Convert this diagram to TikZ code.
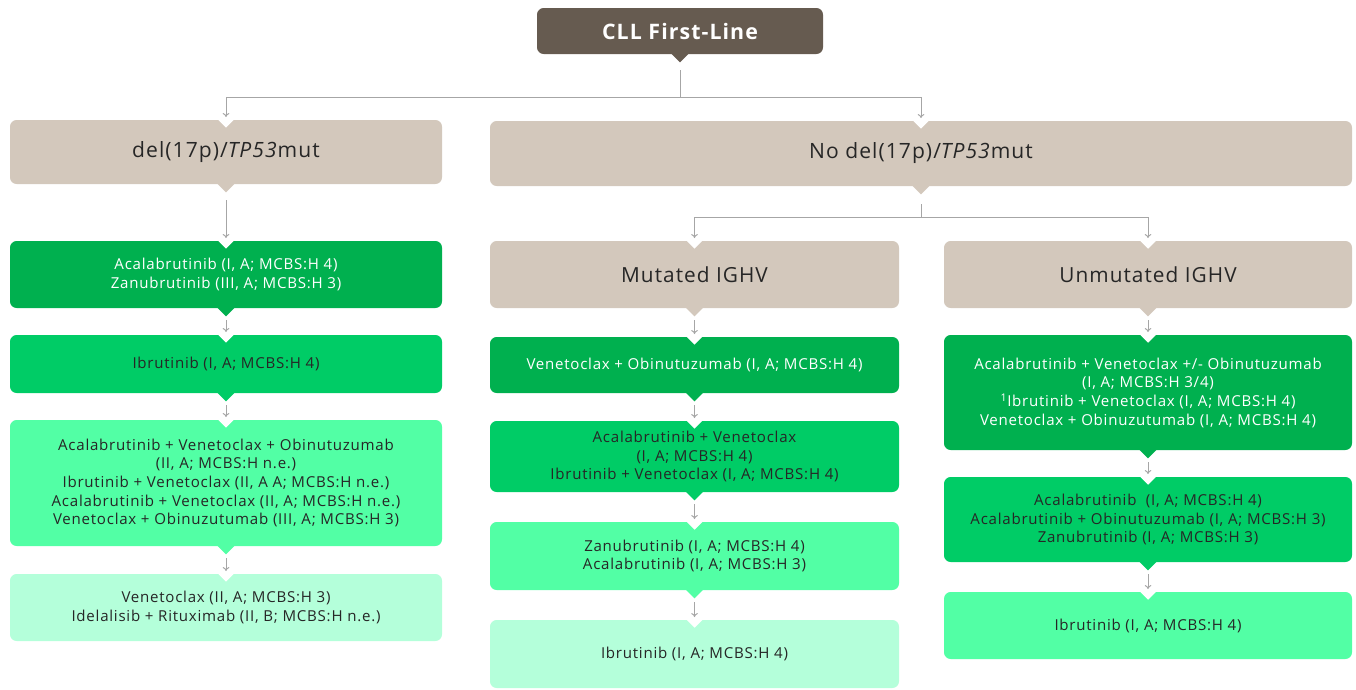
\documentclass[tikz,border=0pt]{standalone}
\usepackage{fontspec}
\setmainfont{Open Sans}[LetterSpace=5]
\usetikzlibrary{arrows.meta}

\definecolor{cllbrown}{HTML}{665B50}
\definecolor{beige}{HTML}{D3C8BC}
\definecolor{grdark}{HTML}{00B04F}
\definecolor{grmid}{HTML}{00CC66}
\definecolor{grlight}{HTML}{52FFA5}
\definecolor{grpale}{HTML}{B4FFDA}
\definecolor{txtdark}{HTML}{262626}
\definecolor{arrowgray}{HTML}{A6A6A6}

% pointer under a box, white notch on top of a box
\newcommand{\BoxTail}[2]{\fill[#2] (#1.south) ++(-9,-1) -- ++(18,0) -- ++(-9,9) -- cycle;}
\newcommand{\BoxNotch}[1]{\fill[white] (#1.north) ++(-9,-1) -- ++(18,0) -- ++(-9,9) -- cycle;}

\begin{document}
\begin{tikzpicture}[x=0.75pt, y=-0.75pt]
\tikzset{box/.style = {rounded corners=5pt, align=center, inner sep=0pt,
                       font=\fontsize{11.3}{14}\selectfont},
         head/.style = {box, fill=beige, text=txtdark,
                        font=\fontsize{15.8}{18}\selectfont},
         sub/.style = {box, fill=beige, text=txtdark,
                       font=\fontsize{15.6}{16}\selectfont},
         tdark/.style = {box, fill=grdark, text=white},
         tmid/.style = {box, fill=grmid, text=txtdark},
         tlight/.style = {box, fill=grlight, text=txtdark},
         tpale/.style = {box, fill=grpale, text=txtdark},
         colL/.style = {minimum width=324pt},
         colM/.style = {minimum width=306.75pt},
         colR/.style = {minimum width=306pt},
         line/.style = {draw=arrowgray, line width=0.75pt},
         conn/.style = {line, -{To[length=3pt,width=5pt]}, shorten >=2pt}}
\useasboundingbox (0,0) rectangle (1356,689);

\node[box, fill=cllbrown, text=white, minimum width=214.5pt, minimum height=34.5pt,
      font=\fontsize{16}{18}\bfseries] (cll) at (680,31) {CLL First-Line};

\node[head, colL, minimum height=48pt] (del) at (226,152) {del(17p)/\textit{TP53}mut};
\node[head, minimum width=646.5pt, minimum height=48.75pt] (nodel) at (921,153.5)
      {No del(17p)/\textit{TP53}mut};
\node[sub, colM, minimum height=50.25pt] (mut) at (694.5,274.5) {Mutated IGHV};
\node[sub, colR, minimum height=50.25pt] (unmut) at (1148,274.5) {Unmutated IGHV};

% del(17p) column
\node[tdark, colL, minimum height=50.25pt] (L1) at (226,274.5)
      {Acalabrutinib (I, A; MCBS:H 4)\\Zanubrutinib (III, A; MCBS:H 3)};
\node[tmid, colL, minimum height=43.5pt] (L2) at (226,364)
      {Ibrutinib (I, A; MCBS:H 4)};
\node[tlight, colL, minimum height=94.5pt] (L3) at (226,483)
      {Acalabrutinib + Venetoclax + Obinutuzumab\\(II, A; MCBS:H n.e.)\\
       Ibrutinib + Venetoclax (II, A A; MCBS:H n.e.)\\
       Acalabrutinib + Venetoclax (II, A; MCBS:H n.e.)\\
       Venetoclax + Obinuzutumab (III, A; MCBS:H 3)};
\node[tpale, colL, minimum height=50.25pt] (L4) at (226,607.5)
      {Venetoclax (II, A; MCBS:H 3)\\Idelalisib + Rituximab (II, B; MCBS:H n.e.)};

% mutated IGHV column
\node[tdark, colM, minimum height=42pt] (M1) at (694.5,365)
      {Venetoclax + Obinutuzumab (I, A; MCBS:H 4)};
\node[tmid, colM, minimum height=53.25pt] (M2) at (694.5,456.5)
      {Acalabrutinib + Venetoclax\\(I, A; MCBS:H 4)\\Ibrutinib + Venetoclax (I, A; MCBS:H 4)};
\node[tlight, colM, minimum height=51pt] (M3) at (694.5,556)
      {Zanubrutinib (I, A; MCBS:H 4)\\Acalabrutinib (I, A; MCBS:H 3)};
\node[tpale, colM, minimum height=51pt] (M4) at (694.5,654)
      {Ibrutinib (I, A; MCBS:H 4)};

% unmutated IGHV column
\node[tdark, colR, minimum height=86.25pt] (R1) at (1148,392.5)
      {Acalabrutinib + Venetoclax +/- Obinutuzumab\\(I, A; MCBS:H 3/4)\\
       \textsuperscript{1}Ibrutinib + Venetoclax (I, A; MCBS:H 4)\\
       Venetoclax + Obinuzutumab (I, A; MCBS:H 4)};
\node[tmid, colR, minimum height=63.75pt] (R2) at (1148,519.5)
      {Acalabrutinib\ \ (I, A; MCBS:H 4)\\Acalabrutinib + Obinutuzumab (I, A; MCBS:H 3)\\
       Zanubrutinib (I, A; MCBS:H 3)};
\node[tlight, colR, minimum height=50.25pt] (R3) at (1148,625.5)
      {Ibrutinib (I, A; MCBS:H 4)};

\foreach \n/\c in {cll/cllbrown, del/beige, nodel/beige, mut/beige, unmut/beige,
                   L1/grdark, L2/grmid, L3/grlight, M1/grdark, M2/grmid, M3/grlight,
                   R1/grdark, R2/grmid}
  {\BoxTail{\n}{\c}}
\foreach \n in {del, nodel, mut, unmut, L1, L2, L3, L4, M1, M2, M3, M4, R1, R2, R3}
  {\BoxNotch{\n}}

\coordinate (j0) at (680,97);
\coordinate (j1) at (921,217);
\draw[line] (cll.south) ++(0,16) -- (j0);
\draw[conn] (j0) -| (del.north);
\draw[conn] (j0) -| (nodel.north);
\draw[line] (nodel.south) ++(0,18) -- (j1);
\draw[conn] (j1) -| (mut.north);
\draw[conn] (j1) -| (unmut.north);
\draw[conn] (del.south) ++(0,16) -- (L1.north);
\foreach \a/\b in {L1/L2, L2/L3, L3/L4, mut/M1, M1/M2, M2/M3, M3/M4,
                   unmut/R1, R1/R2, R2/R3}
  {\draw[conn] (\a.south) ++(0,12) -- (\b.north);}

\end{tikzpicture}
\end{document}
